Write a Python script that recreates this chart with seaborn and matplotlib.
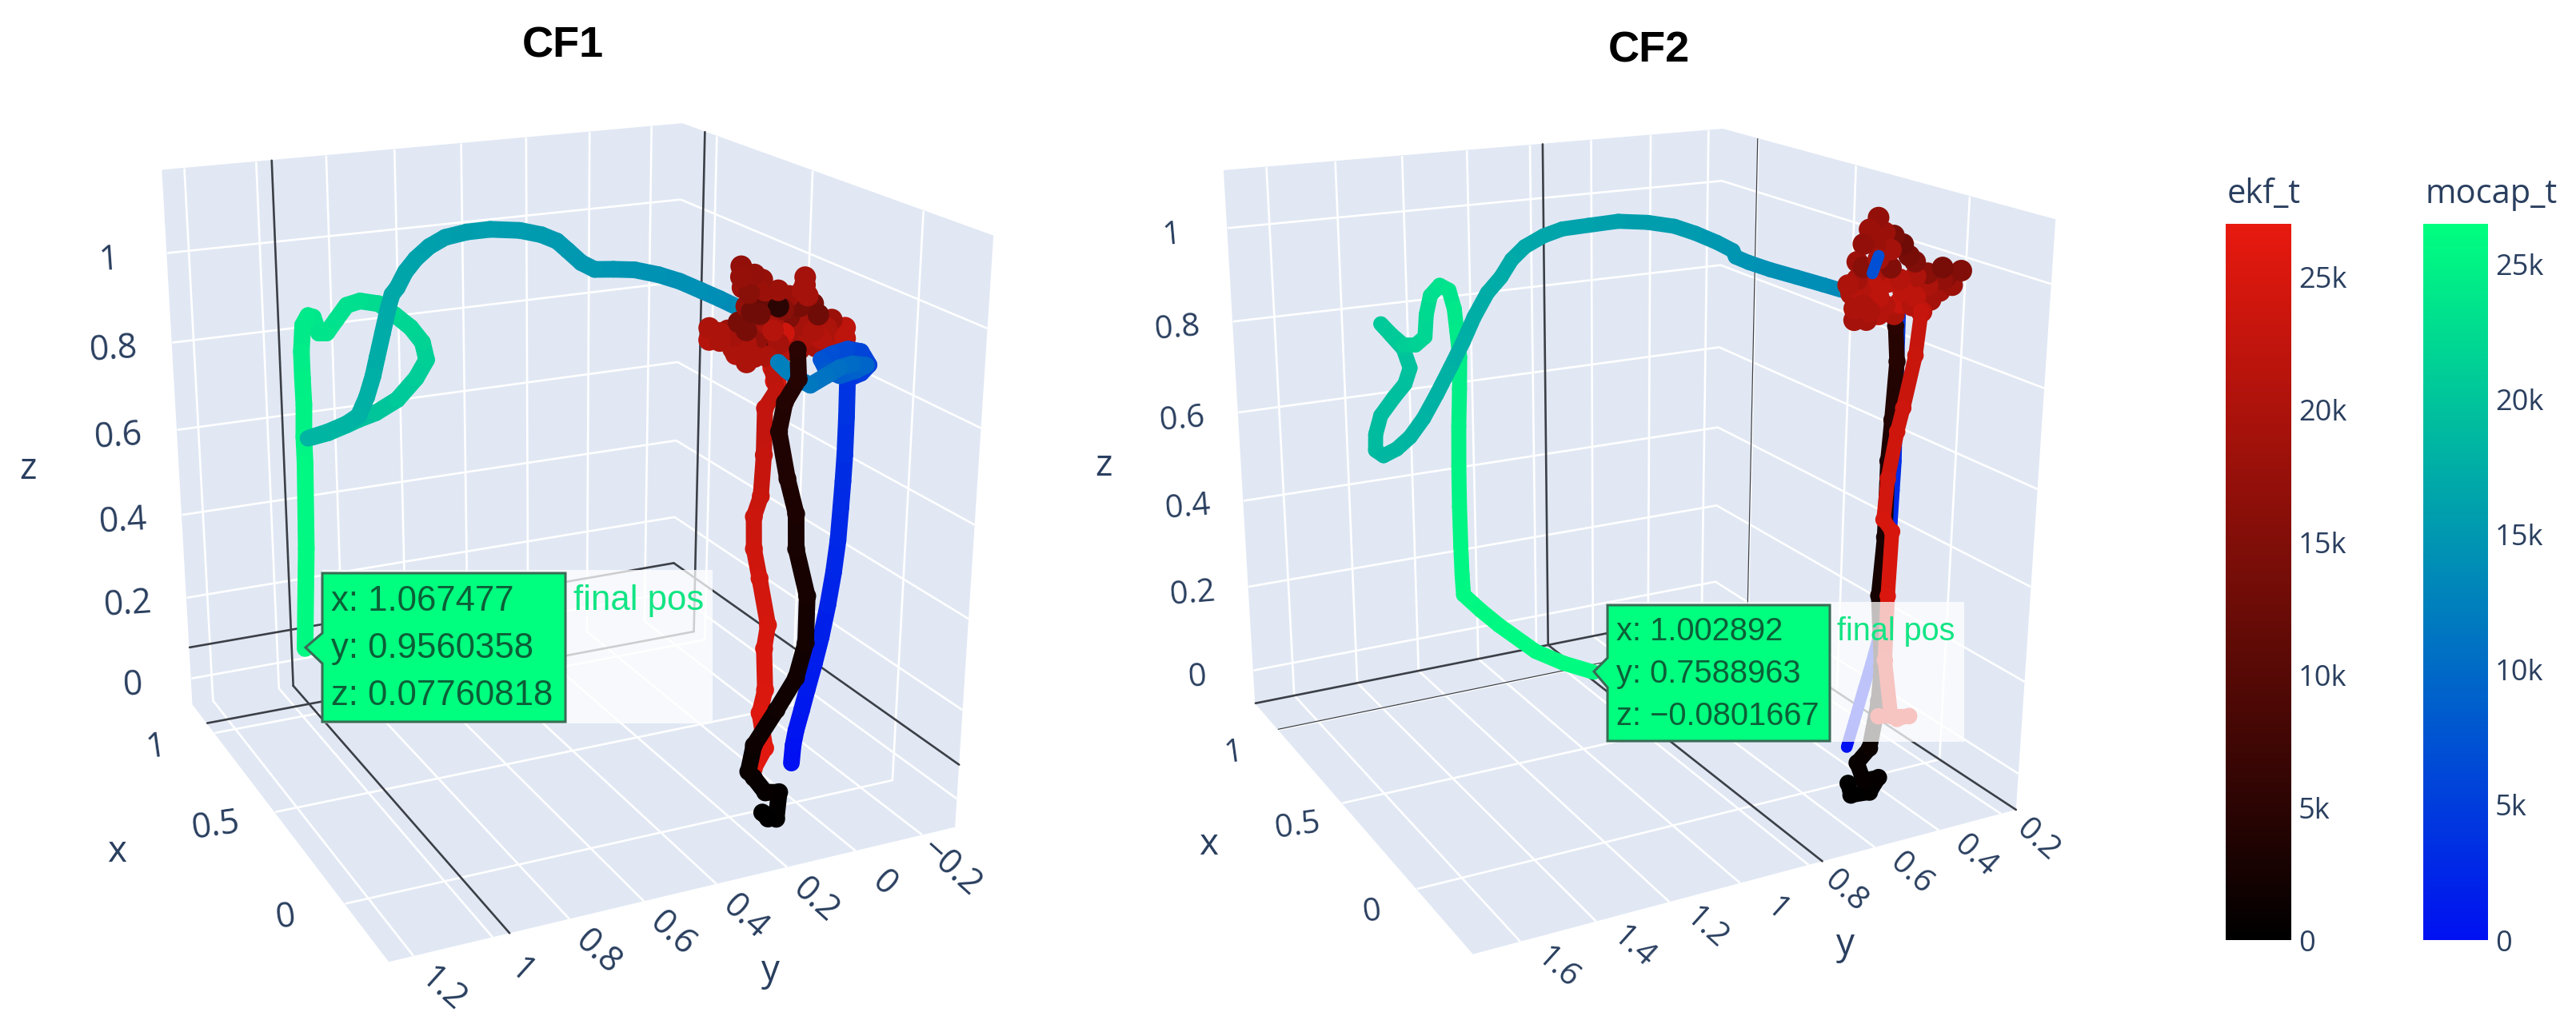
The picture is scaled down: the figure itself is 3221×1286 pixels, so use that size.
"""
Crazyflie flight trajectories, mocap vs ekf, for CF1 and CF2.
3D axes on the left and middle, shared time colour bars on the right.
"""

import numpy as np
import matplotlib
matplotlib.use("Agg")
import matplotlib.pyplot as plt
import seaborn as sns
from matplotlib.cm import ScalarMappable
from matplotlib.colors import Normalize
from matplotlib.patches import Polygon, Rectangle
from mpl_toolkits.mplot3d import proj3d
from mpl_toolkits.mplot3d.art3d import Line3DCollection


# ──────────────────────────────────────────────────────────────────────────────
# Data (t in thousands)
# ──────────────────────────────────────────────────────────────────────────────

cf1_mocap_x = [0] * 29 + [.01, .02, .03, .05, .08, .12, .16, .2, .24, .28, .31, .34, .37, .4, .43, .46, .49, .53, .57, .61, .64, .67, .7, .72, .74, .76, .78, .8, .82, .84, .86, .88, .9, .92, .93, .94, .95, .96, .98, 1.0, 1.02, 1.04, 1.05, 1.05, 1.05, 1.05, 1.05, 1.05, 1.05, 1.05, 1.05, 1.05, 1.05, 1.06, 1.062, 1.064, 1.066, 1.067, 1.067, 1.067]
cf1_mocap_y = [.018, .015, .008, -.007, -.021, -.040, -.057, -.073, -.086, -.095, -.099, -.102, -.104, -.104, -.102, -.141, -.163, -.138, -.099, -.053, -.023, -.040, -.079, -.125, -.155, -.116, -.078, -.040, .005, .037, .062, .080, .116, .159, .196, .225, .262, .300, .345, .388, .424, .446, .468, .483, .512, .557, .619, .666, .708, .739, .764, .781, .796, .803, .807, .816, .825, .830, .842, .859, .886, .932, .982, .921, .864, .825, .770, .698, .633, .592, .595, .625, .672, .718, .772, .811, .843, .871, .894, .908, .923, .939, .942, .941, .939, .942, .941, .947, .962]
cf1_mocap_z = [.029, .069, .102, .147, .191, .248, .305, .374, .444, .513, .582, .639, .695, .775, .855, .863, .878, .908, .917, .911, .903, .879, .864, .870, .878, .885, .881, .868, .853, .868, .885, .901, .970, 1.006, 1.022, 1.033, 1.047, 1.056, 1.062, 1.061, 1.058, 1.068, 1.089, 1.104, 1.114, 1.121, 1.121, 1.112, 1.097, 1.075, 1.046, 1.014, .978, .960, .925, .869, .813, .768, .717, .672, .652, .634, .620, .623, .632, .638, .645, .663, .701, .735, .771, .806, .840, .869, .880, .874, .844, .817, .819, .856, .861, .841, .779, .718, .656, .582, .519, .317, .075]
cf1_mocap_t = [0, .3, .6, .9, 1.2, 1.5, 1.8, 2.1, 2.4, 2.7, 3, 3.3, 3.6, 3.9, 4.2, 5, 5.5, 6, 6.5, 7, 7.5, 8, 8.5, 9, 9.5, 10, 10.5, 11, 11.5, 12, 12.5, 13, 13.3, 13.6, 13.8, 14, 14.2, 14.4, 14.6, 14.8, 15, 15.1, 15.2, 15.3, 15.4, 15.5, 15.7, 15.8, 15.9, 16.1, 16.3, 16.5, 16.7, 16.9, 17, 17.2, 17.4, 17.6, 17.8, 18, 18.2, 18.4, 18.6, 18.9, 19.2, 19.5, 20, 20.5, 21, 21.3, 21.6, 21.9, 22.2, 22.5, 22.8, 23, 23.2, 23.4, 23.6, 23.8, 24, 24.2, 24.5, 24.8, 25, 25.3, 25.6, 25.9, 26.2]

cf1_climb_y = [.083, .101, .058, .052, .094, .130, .147, .133, .069, .014, -.011, -.010, .028, .032, .061, .090, .076, .039, .045]
cf1_climb_z = [-.089, -.072, -.094, -.033, -.026, .014, .031, .089, .159, .223, .298, .402, .510, .586, .664, .766, .825, .869, .930]
cf1_climb_t = [0, .2, .4, .6, .8, 1, 1.2, 1.5, 1.8, 2.1, 2.4, 2.7, 3, 3.3, 3.6, 3.9, 4.2, 4.5, 4.8]

cf1_hover_x = [.01, -.01, .02, -.02, 0] * 8 + [.01, -.01, .02, -.02, 0] * 5 + [.01, -.01, .02, -.02]
cf1_hover_y = [.204, .216, .193, .185, .151, .136, .192, .151, .118, .075, .025, .044, -.007, .003, -.049, -.095, -.083, -.064, .016, .042, .066, .110, .127, .190, .213, .236, .299, .281, .275, .226, .184, .194, .147, .129, .086, .041, .000, .110, .125, .104, .188, .171, .115, .167, .193, .111, .095, .038, .035, .044, .005, -.028, -.071, -.007, .025, .064, .106, .141, .203, .227, .258, .172, .206, .141, .084, .033, -.023, -.089, .044]
cf1_hover_z = [1.109, 1.093, 1.064, 1.097, 1.080, 1.055, 1.059, 1.028, 1.060, 1.041, 1.072, 1.051, 1.014, 1.001, .982, .959, .943, .943, .970, .979, .996, 1.025, .988, 1.024, 1.001, .985, 1.000, .968, .974, .949, .953, .921, .937, .981, .967, .945, .934, .938, .906, .872, 1.070, 1.068, 1.041, 1.017, 1.031, .994, 1.018, 1.012, 1.042, 1.017, .979, .969, .954, .952, .951, .942, .950, .963, .988, .976, .982, .930, .932, .929, .930, .928, .932, .919, 1.064]
cf1_hover_t = [17, 17.5, 18, 17, 17.5, 18, 16, 12, 18, 18, 19, 19, 14, 13, 18, 22, 22, 21, 20, 19, 15, 5, 19, 13, 14, 18, 20, 21, 20, 20, 20, 20, 17, 21, 24, 18, 19, 9, 24, 25, 18, 18, 18, 13, 17, 19, 16, 18, 19, 14, 19, 20, 20, 21, 20, 19, 19, 17, 14, 19, 20, 20, 21, 20, 21, 19, 21, 22, 19]

cf1_return_y = [.111, .101, .132, .131, .136, .154, .151, .132, .103, .112, .105, .119, .099, .131]
cf1_return_z = [.889, .852, .819, .722, .636, .595, .526, .460, .354, .303, .210, .160, .077, .035]
cf1_return_t = [22, 22.3, 22.6, 23, 23.3, 23.6, 24, 24.4, 24.8, 25.1, 25.5, 25.8, 26.1, 26.5]

cf2_mocap_x = [0] * 16 + [.06, .09, .13, .17, .2, .22, .23, .27, .31, .35, .39, .43, .47, .51, .55, .59, .62, .65, .68, .7, .73, .76, .79, .82, .85, .87, .89, .9, .91, .92, .93, .94, .95, .955, .96, .96, .965, .97, .97, .975, .98, .985, .99, .995, 1, 1, 1, 1, 1, 1, 1, 1, 1, 1, 1, 1, 1, 1, 1.0029]
cf2_mocap_y = [.463, .442, .416, .394, .374, .362, .352, .348, .347, .345, .343, .346, .348, .350, .423, .440, .488, .524, .578, .633, .678, .705, .707, .730, .770, .809, .865, .928, .992, 1.048, 1.082, 1.117, 1.141, 1.159, 1.185, 1.216, 1.235, 1.262, 1.291, 1.319, 1.348, 1.380, 1.412, 1.431, 1.425, 1.404, 1.358, 1.321, 1.300, 1.316, 1.348, 1.378, 1.346, 1.309, 1.273, 1.242, 1.234, 1.218, 1.187, 1.157, 1.140, 1.134, 1.127, 1.130, 1.135, 1.138, 1.139, 1.138, 1.136, 1.133, 1.079, 1.020, .900, .807, .701]
cf2_mocap_z = [.001, .054, .122, .177, .232, .295, .357, .419, .482, .543, .604, .695, .785, .903, 1.024, .991, .952, .961, .974, .987, 1.000, 1.010, 1.021, 1.033, 1.048, 1.059, 1.065, 1.066, 1.057, 1.048, 1.031, 1.006, .977, .938, .903, .852, .798, .739, .679, .624, .580, .553, .537, .549, .581, .618, .652, .675, .706, .748, .779, .807, .780, .753, .750, .764, .811, .850, .869, .855, .812, .764, .704, .633, .549, .458, .365, .271, .201, .155, .110, .065, -.017, -.060, -.100]
cf2_mocap_t = [0, .4, .8, 1.2, 1.6, 1.9, 2.2, 2.5, 2.8, 3.1, 3.4, 3.8, 4.2, 5, 7, 10, 13.5, 13.8, 14, 14.3, 14.5, 14.7, 14.9, 15.1, 15.4, 15.6, 15.8, 16, 16.2, 16.4, 16.6, 16.8, 17, 17.2, 17.4, 17.5, 17.7, 17.9, 18, 18.2, 18.4, 18.6, 18.8, 18.9, 19, 19.2, 19.4, 19.5, 19.7, 20, 20.2, 20.5, 20.8, 21.1, 21.5, 21.9, 22.3, 22.8, 23.2, 23.6, 23.9, 24.2, 24.5, 24.7, 24.9, 25.1, 25.3, 25.4, 25.5, 25.6, 25.7, 25.8, 25.9, 26, 26.2]

cf2_climb_y = [.454, .443, .382, .354, .404, .427, .388, .365, .360, .379, .368, .368, .361, .353, .362]
cf2_climb_z = [-.083, -.112, -.116, -.087, -.085, -.041, -.014, .088, .165, .323, .447, .607, .691, .809, .881]
cf2_climb_t = [0, .2, .4, .6, .8, 1, 1.3, 1.7, 2, 2.5, 3, 3.5, 4, 4.4, 4.8]

cf2_hover_x = [.01, -.01, .02, -.02, 0] * 9 + [.01, -.01, .02]
cf2_hover_y = [.421, .461, .393, .485, .350, .398, .318, .416, .370, .270, .214, .172, .214, .320, .475, .495, .498, .439, .413, .352, .431, .291, .311, .399, .468, .427, .394, .473, .438, .330, .261, .351, .378, .478, .512, .478, .426, .354, .328, .257, .204, .452, .476, .239, .191, .372, .315, .402]
cf2_hover_z = [1.096, 1.079, 1.064, 1.054, 1.041, 1.020, 1.006, .986, .977, .978, .960, .977, .935, .939, .960, .954, .929, .896, .929, .926, .966, .905, .960, 1.002, 1.005, 1.045, 1.035, 1.013, 1.022, 1.017, .952, .951, .966, .935, .974, .981, .946, .900, .922, .924, .965, .919, .899, .990, .948, 1.058, .977, .904]
cf2_hover_t = [17, 18, 18, 17, 13, 19, 15, 20, 21, 16, 17, 15, 19, 22, 21, 20, 20, 19, 21, 23, 22, 22, 22, 15, 16, 18, 19, 18, 19, 14, 20, 22, 22, 20, 20, 19, 22, 20, 21, 19, 15, 20, 19, 14, 18, 14, 20, 21]

cf2_return_y = [.284, .296, .327, .343, .366, .374, .345, .350, .350, .322, .363, .261, .301]
cf2_return_z = [.903, .816, .712, .665, .570, .485, .456, .318, .177, .048, .054, .038, .038]
cf2_return_t = [23, 23.4, 23.8, 24, 24.4, 24.7, 24.9, 25.2, 25.6, 25.9, 26.1, 26.3, 26.5]

# hover tooltip values, these also place the spike lines
cf1_final = (1.067477, 0.9560358, 0.07760818)
cf2_final = (1.002892, 0.7588963, -0.0801667)
cf1_tooltip = ["x: 1.067477", "y: 0.9560358", "z: 0.07760818"]
cf2_tooltip = ["x: 1.002892", "y: 0.7588963", "z: \u22120.0801667"]

x_ticks = [0, 0.5, 1]
z_ticks = [0, 0.2, 0.4, 0.6, 0.8, 1]
cf1_y_ticks = [-0.2, 0, 0.2, 0.4, 0.6, 0.8, 1, 1.2]
cf2_y_ticks = [0.2, 0.4, 0.6, 0.8, 1, 1.2, 1.4, 1.6]
cbar_ticks = [0, 5000, 10000, 15000, 20000, 25000]
cbar_labels = ["0", "5k", "10k", "15k", "20k", "25k"]


# ──────────────────────────────────────────────────────────────────────────────
# Style
# ──────────────────────────────────────────────────────────────────────────────

W, H = 3221, 1286
AX_SIDE = 1300
PANE = "#E1E8F4"
INK = "#2a3f5f"
SPIKE = "#3c3f46"

sns.set_theme(style="white")
plt.rcParams["font.family"] = ["Open Sans", "DejaVu Sans"]

ekf_cmap = sns.blend_palette(["#000000", "#E8190F"], as_cmap=True)
mocap_cmap = sns.blend_palette(["#0010F2", "#00FF7F"], as_cmap=True)
ekf_norm = Normalize(0, 27000)
mocap_norm = Normalize(0, 26500)


def fmt_tick(v):
    return f"{v:g}".replace("-", "\u2212")


def draw_path(ax, x, y, z, t, cmap, norm, lw, zorder):
    pts = np.column_stack([x, y, z])
    segs = np.stack([pts[:-1], pts[1:]], axis=1)
    colors = cmap(norm(np.asarray(t[:-1]) * 1000))
    lc = Line3DCollection(segs, colors=colors, linewidths=lw, capstyle="round", zorder=zorder)
    ax.add_collection3d(lc)


def draw_mocap(ax, x, y, z, t, start, stop, lw, zorder):
    draw_path(ax, x[start:stop], y[start:stop], z[start:stop], t[start:stop],
              mocap_cmap, mocap_norm, lw, zorder)


def draw_dots(ax, x, y, z, t, size, zorder):
    ax.scatter(x, y, z, c=np.asarray(t) * 1000, cmap=ekf_cmap, norm=ekf_norm,
               s=size, linewidths=0, depthshade=False, zorder=zorder, alpha=1)


def make_axes(fig, cam, lims, y_ticks):
    elev, azim, focal, bx, by, zoom, cx, cy = cam
    rect = [(cx - AX_SIDE / 2) / W, (H - cy - AX_SIDE / 2) / H, AX_SIDE / W, AX_SIDE / H]
    ax = fig.add_axes(rect, projection="3d", computed_zorder=False)
    ax.set_facecolor("none")
    ax.set_box_aspect((bx, by, 1), zoom=zoom)
    ax.view_init(elev, azim)
    ax.set_proj_type("persp", focal_length=focal)
    ax.set_xticks(x_ticks)
    ax.set_yticks(y_ticks)
    ax.set_zticks(z_ticks)
    ax.set_xticklabels([])
    ax.set_yticklabels([])
    ax.set_zticklabels([])
    for axis in (ax.xaxis, ax.yaxis, ax.zaxis):
        axis.set_pane_color(PANE)
        axis.line.set_color("none")
        axis._axinfo["grid"].update(color="white", linewidth=1.9)
        axis._axinfo["tick"].update(inward_factor=0, outward_factor=0)
    ax.set_xlim(*lims[0], view_margin=0)
    ax.set_ylim(*lims[1], view_margin=0)
    ax.set_zlim(*lims[2], view_margin=0)
    ax.apply_aspect()
    return ax


def add_ticks(fig, ax, lims, y_ticks, x_off, y_off, z_off, rots, size):
    (x0, x1), (y0, y1), (z0, z1) = lims
    M = ax.get_proj()

    def put(x, y, z, v, off, rot):
        a, b, _ = proj3d.proj_transform(x, y, z, M)
        px, py = ax.transData.transform((a, b))
        fig.text((px + off[0]) / W, (py + off[1]) / H, fmt_tick(v), color=INK, fontsize=size,
                 ha="center", va="center", rotation=rot, rotation_mode="anchor")

    for v in x_ticks:
        put(v, y1, z0, v, x_off, rots[0])
    for v in y_ticks:
        put(x0, v, z0, v, y_off, rots[1])
    for v in z_ticks:
        put(x1, y1, v, v, z_off, rots[2])


def add_spikes(ax, final, lims, widths):
    px, py, pz = final
    (x0, x1), (y0, y1), (z0, z1) = lims
    lines = [
        ([x1, x1], [py, py], [z0, z1]),
        ([px, px], [y0, y0], [z0, z1]),
        ([x1, x1], [y0, y1], [pz, pz]),
        ([x0, x1], [y0, y0], [pz, pz]),
        ([x0, x1], [py, py], [z0, z0]),
        ([px, px], [y0, y1], [z0, z0]),
    ]
    for (xs, ys, zs), lw in zip(lines, widths):
        ax.plot(xs, ys, zs, color=SPIKE, lw=lw, zorder=1)


def add_tooltip(ov, box, backing, notch, lines, text_x, text_ys, fs, label_xy, label_fs):
    x0, y0, x1, y1 = box
    tip_x, tip_y, n0, n1 = notch
    ov.add_patch(Rectangle((backing[0], backing[1]), backing[2] - backing[0], backing[3] - backing[1],
                           fc="white", ec="none", alpha=0.75, zorder=2))
    shape = [(x0, y0), (x1, y0), (x1, y1), (x0, y1), (x0, n1), (tip_x, tip_y), (x0, n0)]
    ov.add_patch(Polygon(shape, closed=True, fc="#00FF7F", ec="#3a6b55", lw=2.2, zorder=3))
    for s, yy in zip(lines, text_ys):
        ov.text(text_x, yy, s, family="Liberation Sans", fontsize=fs, color="#0C5F37",
                ha="left", va="center", zorder=4)
    ov.text(label_xy[0], label_xy[1], "final pos", family="Liberation Sans", fontsize=label_fs,
            color="#12E584", ha="left", va="center", zorder=4)


def add_cbar(fig, left, right, top, bottom, cmap, norm):
    cax = fig.add_axes([left / W, (H - bottom) / H, (right - left) / W, (bottom - top) / H])
    cb = fig.colorbar(ScalarMappable(norm=norm, cmap=cmap), cax=cax)
    cb.set_ticks(cbar_ticks)
    cb.set_ticklabels(cbar_labels)
    cb.outline.set_visible(False)
    cb.ax.tick_params(length=0, labelsize=26, labelcolor=INK, pad=6.5)
    return cb


# ──────────────────────────────────────────────────────────────────────────────
# Panels
# ──────────────────────────────────────────────────────────────────────────────

def main():
    fig = plt.figure(figsize=(W / 100, H / 100), dpi=100, facecolor="white")

    # CF1
    lims1 = [(-0.28, 1.2), (-0.3, 1.26), (-0.065, 1.18)]
    ax1 = make_axes(fig, (19.6793, 154.9711, 0.4151, 1.0003, 1.0025, 0.9633, 673.6302, 635.2791), lims1, cf1_y_ticks)
    add_spikes(ax1, cf1_final, lims1, [1.9] * 6)
    path1 = (cf1_mocap_x, cf1_mocap_y, cf1_mocap_z, cf1_mocap_t)
    draw_mocap(ax1, *path1, 62, None, 15, 2)
    draw_mocap(ax1, *path1, 31, 63, 15, 3)
    draw_dots(ax1, cf1_hover_x, cf1_hover_y, cf1_hover_z, cf1_hover_t, 380, 4)
    zeros = [0.0] * len(cf1_return_y)
    draw_path(ax1, zeros, cf1_return_y, cf1_return_z, cf1_return_t, ekf_cmap, ekf_norm, 14.5, 5)
    draw_dots(ax1, zeros, cf1_return_y, cf1_return_z, cf1_return_t, 260, 5)
    draw_mocap(ax1, *path1, 0, 32, 15, 6)
    zeros = [0.0] * len(cf1_climb_y)
    draw_path(ax1, zeros, cf1_climb_y, cf1_climb_z, cf1_climb_t, ekf_cmap, ekf_norm, 15, 7)
    draw_dots(ax1, zeros, cf1_climb_y, cf1_climb_z, cf1_climb_t, 260, 7)
    add_ticks(fig, ax1, lims1, cf1_y_ticks, (-74, -18), (36, -42), (-73, -9), (8, -42, 4), 31)

    # CF2
    lims2 = [(-0.33, 1.2), (0.15, 1.72), (-0.08, 1.12)]
    ax2 = make_axes(fig, (18.4316, 152.4526, 0.3745, 1.0038, 0.9922, 0.9515, 2001.7274, 625.5657), lims2, cf2_y_ticks)
    add_spikes(ax2, cf2_final, lims2, [1.9, 0.9, 1.9, 1.9, 1.9, 0.9])
    path2 = (cf2_mocap_x, cf2_mocap_y, cf2_mocap_z, cf2_mocap_t)
    draw_mocap(ax2, *path2, 42, None, 13.5, 2)
    draw_mocap(ax2, *path2, 16, 43, 13.5, 3)
    draw_mocap(ax2, *path2, 0, 14, 10.5, 3)
    zeros = [0.0] * len(cf2_climb_y)
    draw_path(ax2, zeros, cf2_climb_y, cf2_climb_z, cf2_climb_t, ekf_cmap, ekf_norm, 14, 4)
    draw_dots(ax2, zeros, cf2_climb_y, cf2_climb_z, cf2_climb_t, 240, 4)
    draw_dots(ax2, cf2_hover_x, cf2_hover_y, cf2_hover_z, cf2_hover_t, 380, 5)
    zeros = [0.0] * len(cf2_return_y)
    draw_path(ax2, zeros, cf2_return_y, cf2_return_z, cf2_return_t, ekf_cmap, ekf_norm, 13, 6)
    draw_dots(ax2, zeros, cf2_return_y, cf2_return_z, cf2_return_t, 220, 6)
    draw_mocap(ax2, *path2, 14, 16, 10.5, 7)
    add_ticks(fig, ax2, lims2, cf2_y_ticks, (-56, -29), (46, -33), (-70, -9), (8, -42, 5), 29)

    # overlay in pixels for titles, axis names and tooltips
    ov = fig.add_axes([0, 0, 1, 1], zorder=10)
    ov.set_xlim(0, W)
    ov.set_ylim(H, 0)
    ov.axis("off")
    ov.patch.set_alpha(0)

    ov.text(704, 57, "CF1", family="Liberation Sans", weight="bold", fontsize=39, color="black", ha="center", va="center")
    ov.text(2062, 64, "CF2", family="Liberation Sans", weight="bold", fontsize=39, color="black", ha="center", va="center")
    for x, y, s in [(146, 1066, "x"), (964, 1215, "y"), (35, 587, "z"),
                    (1511, 1057, "x"), (2307, 1182, "y"), (1380, 583, "z")]:
        ov.text(x, y, s, color=INK, fontsize=33, ha="center", va="center")

    add_tooltip(ov, (403, 717, 707, 903), (403, 713, 891, 905), (382, 810, 792, 830),
                cf1_tooltip, 414, (752, 811, 870), 31.5, (717, 752), 31.5)
    add_tooltip(ov, (2010, 757, 2288, 927), (2010, 753, 2456, 928), (1993, 840, 823, 860),
                cf2_tooltip, 2021, (790, 843, 896), 28.7, (2297, 790), 28.5)

    # colour bars
    add_cbar(fig, 2783, 2865, 280, 1176, ekf_cmap, ekf_norm)
    add_cbar(fig, 3030, 3111, 280, 1176, mocap_cmap, mocap_norm)
    ov.text(2785, 243, "ekf_t", color=INK, fontsize=30, ha="left", va="center")
    ov.text(3032, 243, "mocap_t", color=INK, fontsize=30, ha="left", va="center")

    fig.savefig("out.png", dpi=100)


if __name__ == "__main__":
    main()
